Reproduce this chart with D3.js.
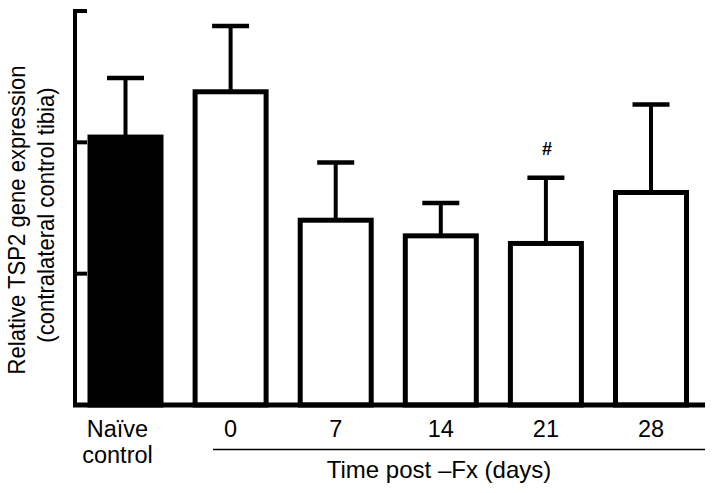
<!DOCTYPE html>
<html>
<head>
<meta charset="utf-8">
<script src="https://cdn.jsdelivr.net/npm/d3@7/dist/d3.min.js"></script>
<style>
  html, body { margin: 0; padding: 0; background: #fff; }
  svg { display: block; font-family: "Liberation Sans", Arial, sans-serif; }
</style>
</head>
<body>
<svg id="chart" width="714" height="493"></svg>
<script>
// ---- data ----
const categories = ["Naïve control", "0", "7", "14", "21", "28"];
const values = [2.04, 2.385, 1.407, 1.288, 1.23, 1.618];
const errors = [0.45, 0.50, 0.44, 0.25, 0.50, 0.67];
const yTicks = [0, 1, 2, 3];
const markers = ["", "", "", "", "#", ""];
const timeLabel = "Time post \u2013Fx (days)";
const yLabel1 = "Relative TSP2 gene expression";
const yLabel2 = "(contralateral control tibia)";

// ---- layout ----
const svg = d3.select("#chart");
const y = d3.scaleLinear().domain([0, 3]).range([405, 11]);
const x = d3.scalePoint().domain(categories).range([125.5, 651]);
const barW = 71;
const capW = 37;

// y axis line + inward ticks
svg.append("line")
  .attr("x1", 75).attr("x2", 75)
  .attr("y1", y(3) - 2).attr("y2", y(0) + 2)
  .attr("stroke", "#000").attr("stroke-width", 4);
svg.selectAll(".ytick").data(yTicks).enter().append("line")
  .attr("class", "ytick")
  .attr("x1", 75).attr("x2", 87)
  .attr("y1", d => y(d)).attr("y2", d => y(d))
  .attr("stroke", "#000").attr("stroke-width", 4);

// error bars
const eg = svg.append("g");
categories.forEach((c, i) => {
  const cx = x(c);
  eg.append("line")
    .attr("x1", cx).attr("x2", cx)
    .attr("y1", y(values[i])).attr("y2", y(values[i] + errors[i]))
    .attr("stroke", "#000").attr("stroke-width", 4);
  eg.append("line")
    .attr("x1", cx - capW / 2).attr("x2", cx + capW / 2)
    .attr("y1", y(values[i] + errors[i])).attr("y2", y(values[i] + errors[i]))
    .attr("stroke", "#000").attr("stroke-width", 4.5);
});

// bars
svg.selectAll(".bar").data(categories).enter().append("rect")
  .attr("class", "bar")
  .attr("x", d => x(d) - barW / 2)
  .attr("width", barW)
  .attr("y", (d, i) => y(values[i]))
  .attr("height", (d, i) => y(0) - y(values[i]))
  .attr("fill", (d, i) => i === 0 ? "#000" : "#fff")
  .attr("stroke", "#000")
  .attr("stroke-width", 5)
  .attr("stroke-linejoin", "miter");

// x axis line
svg.append("line")
  .attr("x1", 73).attr("x2", 705)
  .attr("y1", y(0)).attr("y2", y(0))
  .attr("stroke", "#000").attr("stroke-width", 5);

// markers
svg.selectAll(".mark").data(categories).enter().append("text")
  .attr("class", "mark")
  .attr("x", d => x(d) + 1)
  .attr("y", 155)
  .attr("text-anchor", "middle")
  .attr("font-size", 18).attr("font-weight", "bold")
  .text((d, i) => markers[i]);

// category labels
categories.forEach((c, i) => {
  const t = svg.append("text")
    .attr("x", x(c))
    .attr("text-anchor", "middle")
    .attr("font-size", 23.5)
    .attr("fill", "#000");
  if (i === 0) {
    const parts = c.split(" ");
    t.attr("x", x(c) - 8);
    t.append("tspan").attr("x", x(c) - 8).attr("y", 437).text(parts[0]);
    t.append("tspan").attr("x", x(c) - 8).attr("y", 463).text(parts[1]);
  } else {
    t.attr("y", 437).text(c);
  }
});

// group underline and title
svg.append("line")
  .attr("x1", 213).attr("x2", 705)
  .attr("y1", 449.5).attr("y2", 449.5)
  .attr("stroke", "#000").attr("stroke-width", 1.5);
svg.append("text")
  .attr("x", 439).attr("y", 478)
  .attr("text-anchor", "middle")
  .attr("font-size", 24)
  .text(timeLabel);

// y label
svg.append("text")
  .attr("transform", "translate(25,220) rotate(-90) scale(0.94,1)")
  .attr("text-anchor", "middle")
  .attr("font-size", 23.5)
  .text(yLabel1);
svg.append("text")
  .attr("transform", "translate(54,215) rotate(-90) scale(0.94,1)")
  .attr("text-anchor", "middle")
  .attr("font-size", 23.5)
  .text(yLabel2);
</script>
</body>
</html>
